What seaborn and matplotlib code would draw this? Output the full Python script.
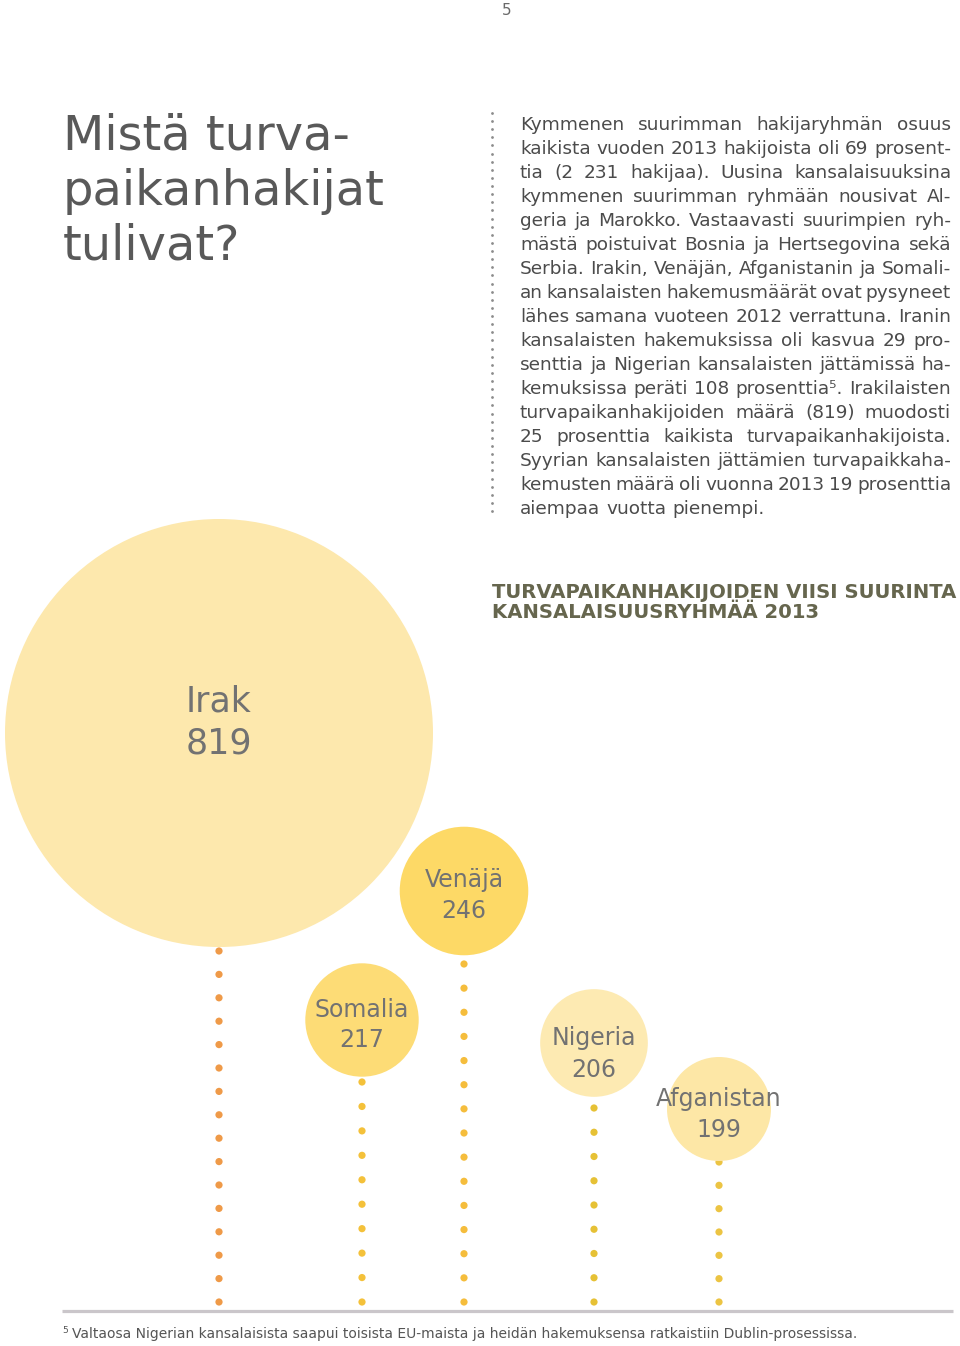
import numpy as np
import pandas as pd
import matplotlib
matplotlib.use("Agg")
import matplotlib.pyplot as plt
from matplotlib.patches import Circle
import seaborn as sns

# ---------------- data ----------------
countries = ["Irak", "Venäjä", "Somalia", "Nigeria", "Afganistan"]
applicants = [819, 246, 217, 206, 199]

title_lines = ["Mistä turva-", "paikanhakijat", "tulivat?"]
heading_lines = ["TURVAPAIKANHAKIJOIDEN VIISI SUURINTA", "KANSALAISUUSRYHMÄÄ 2013"]
paragraph_lines = [
    "Kymmenen suurimman hakijaryhmän osuus",
    "kaikista vuoden 2013 hakijoista oli 69 prosent-",
    "tia (2 231 hakijaa). Uusina kansalaisuuksina",
    "kymmenen suurimman ryhmään nousivat Al-",
    "geria ja Marokko. Vastaavasti suurimpien ryh-",
    "mästä poistuivat Bosnia ja Hertsegovina sekä",
    "Serbia. Irakin, Venäjän, Afganistanin ja Somali-",
    "an kansalaisten hakemusmäärät ovat pysyneet",
    "lähes samana vuoteen 2012 verrattuna. Iranin",
    "kansalaisten hakemuksissa oli kasvua 29 pro-",
    "senttia ja Nigerian kansalaisten jättämissä ha-",
    "kemuksissa peräti 108 prosenttia⁵. Irakilaisten",
    "turvapaikanhakijoiden määrä (819) muodosti",
    "25 prosenttia kaikista turvapaikanhakijoista.",
    "Syyrian kansalaisten jättämien turvapaikkaha-",
    "kemusten määrä oli vuonna 2013 19 prosenttia",
    "aiempaa vuotta pienempi.",
]
footnote_mark = "5"
footnote_text = ("Valtaosa Nigerian kansalaisista saapui toisista EU-maista ja heidän "
                 "hakemuksensa ratkaistiin Dublin-prosessissa.")
page_number = "5"

# ---------------- layout / style ----------------
bubble_x = [219, 464, 362, 594, 719]
bubble_y = [733, 891, 1020, 1043, 1109]
bubble_colors = ["#FDE8AD", "#FDD966", "#FDDC76", "#FDEAB2", "#FDE7A6"]
dot_colors = ["#EF9A48", "#F5BD3C", "#F4C13A", "#E6C135", "#ECC443"]
dot_first_y = [951, 964, 1082, 1108, 1162]
dot_last_y = 1302
label_sizes = [25, 17, 17, 17, 17]
label_dy1 = [-21, -4, -3, 2, -3]
label_dy2 = [21, 27, 27, 34, 28]
px_per_applicant = 214 / 819
label_color = "#727272"

sns.set_theme(style="white")
plt.rcParams["font.family"] = ["DejaVu Sans"]

fig = plt.figure(figsize=(9.6, 13.46), dpi=100)
ax = fig.add_axes([0, 0, 1, 1])
ax.set_xlim(0, 960)
ax.set_ylim(1346, 0)
ax.set_aspect("equal")
ax.axis("off")
renderer = fig.canvas.get_renderer()


def text_width(s, **kw):
    t = ax.text(0, 0, s, **kw)
    w = t.get_window_extent(renderer).width
    t.remove()
    return w


# ---------------- page number ----------------
ax.text(507, 15, page_number, fontsize=11, color="#6a6a6a", ha="center", va="baseline")

# ---------------- title ----------------
for i, line in enumerate(title_lines):
    ax.text(63, 150 + 55 * i, line, fontsize=34.5, color="#595959",
            ha="left", va="baseline")

# ---------------- vertical dotted separator ----------------
sep = pd.DataFrame({"x": np.full(50, 492.0), "y": np.linspace(113, 511, 50)})
sns.scatterplot(data=sep, x="x", y="y", ax=ax, s=4, color="#8c8c8c",
                linewidth=0, legend=False)

# ---------------- justified paragraph ----------------
left, right = 520, 951
col_w = right - left


def line_metrics(line, fs):
    words = line.split(" ")
    ws = [text_width(w, fontsize=fs) for w in words]
    sp = text_width("a a", fontsize=fs) - text_width("aa", fontsize=fs)
    return words, ws, sp


fs = 13.3
for _ in range(10):
    widest = 0
    for line in paragraph_lines:
        words, ws, sp = line_metrics(line, fs)
        widest = max(widest, sum(ws) + sp * (len(words) - 1) * 0.55)
    if widest <= col_w:
        break
    fs *= col_w / widest

para_color = "#4b4b4b"
for i, line in enumerate(paragraph_lines):
    y = 130 + 24 * i
    words, ws, sp = line_metrics(line, fs)
    if i == len(paragraph_lines) - 1 or len(words) == 1:
        gap = sp
    else:
        gap = (col_w - sum(ws)) / (len(words) - 1)
    x = left
    for w, wd in zip(words, ws):
        ax.text(x, y, w, fontsize=fs, color=para_color, ha="left", va="baseline")
        x += wd + gap

# ---------------- heading ----------------
hd_fs = 12.6
hd_fs *= 465 / text_width(heading_lines[0], fontsize=hd_fs, fontweight="bold")
for i, line in enumerate(heading_lines):
    ax.text(492, 598 + 20 * i, line, fontsize=hd_fs, fontweight="bold",
            color="#66664E", ha="left", va="baseline")

# ---------------- dotted stems (seaborn) ----------------
rows = []
for c, x0, y0 in zip(countries, bubble_x, dot_first_y):
    n = int(round((dot_last_y - y0) / 24.0))
    for y in np.linspace(y0, dot_last_y, n + 1):
        rows.append({"country": c, "x": x0, "y": y})
stems = pd.DataFrame(rows)
sns.scatterplot(data=stems, x="x", y="y", hue="country", hue_order=countries,
                palette=dict(zip(countries, dot_colors)), s=27, linewidth=0,
                legend=False, ax=ax, zorder=1)

# ---------------- bubbles ----------------
for c, v, x0, y0, col, ls, d1, d2 in zip(countries, applicants, bubble_x, bubble_y,
                                         bubble_colors, label_sizes, label_dy1, label_dy2):
    r = v * px_per_applicant
    ax.add_patch(Circle((x0, y0), r, facecolor=col, edgecolor="none", zorder=2))
    ax.text(x0, y0 + d1, c, fontsize=ls, color=label_color, ha="center",
            va="baseline", zorder=3)
    ax.text(x0, y0 + d2, f"{v}", fontsize=ls, color=label_color, ha="center",
            va="baseline", zorder=3)

# ---------------- rule & footnote ----------------
ax.plot([62, 953], [1311, 1311], color="#CAC6CA", lw=2.3, solid_capstyle="butt")
ax.text(62, 1333, footnote_mark, fontsize=6.5, color="#555555", ha="left", va="baseline")
fn_fs = 10.0
fn_fs *= 786 / text_width(footnote_text, fontsize=fn_fs)
ax.text(72, 1338, footnote_text, fontsize=fn_fs, color="#555555", ha="left", va="baseline")

ax.set_xlim(0, 960)
ax.set_ylim(1346, 0)
fig.savefig("out.png", dpi=100, facecolor="white")
